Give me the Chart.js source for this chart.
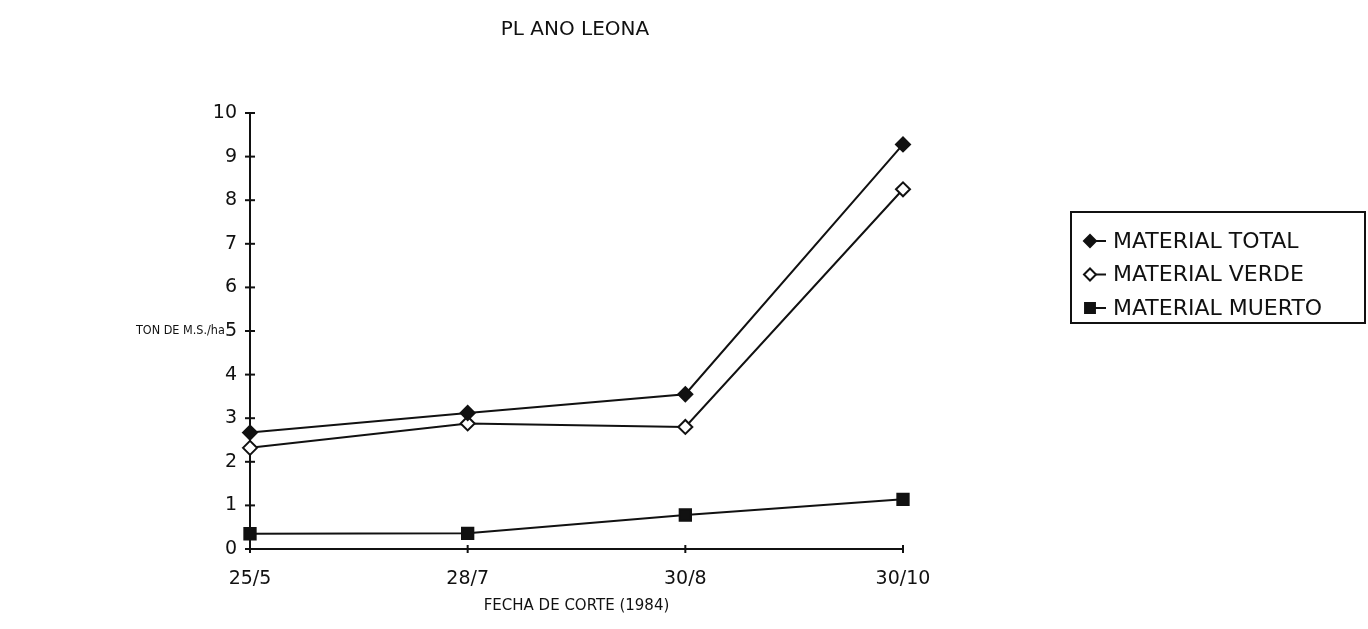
<!DOCTYPE html>
<html lang="es">
<head>
    <meta charset="UTF-8">
    <title>Plano Leona</title>
    <script src="https://cdn.jsdelivr.net/npm/chart.js"></script>
    <style>
        html, body { margin: 0; padding: 0; background: #fff; }
        #wrap { width: 1368px; height: 629px; }
    </style>
    <script>
        // fechas de corte
        var fechas = ['25/5', '28/7', '30/8', '30/10'];
        // ton de M.S./ha
        var materialTotal = [2.67, 3.12, 3.55, 9.28];
        var materialVerde = [2.32, 2.88, 2.80, 8.25];
        var materialMuerto = [0.35, 0.36, 0.78, 1.14];
        var yTicks = [0, 1, 2, 3, 4, 5, 6, 7, 8, 9, 10];
        var nombres = ['MATERIAL TOTAL', 'MATERIAL VERDE', 'MATERIAL MUERTO'];

        var FONT = "'DejaVu Sans', sans-serif";
        var FONT_C = "'DejaVu Sans Condensed', 'DejaVu Sans', sans-serif";
    </script>
</head>
<body>
    <div id="wrap"><canvas id="myChart" width="1368" height="629"></canvas></div>
    <script>
        // ticks en cruz, titulo, titulo del eje y y leyenda con recuadro
        var extras = {
            id: 'extras',
            afterDraw: function (chart) {
                var ctx = chart.ctx;
                var xs = chart.scales.x, ys = chart.scales.y;
                ctx.save();
                ctx.strokeStyle = '#111';
                ctx.fillStyle = '#111';
                ctx.lineWidth = 2;
                ys.ticks.forEach(function (t, i) {
                    var py = ys.getPixelForTick(i);
                    ctx.beginPath();
                    ctx.moveTo(xs.left - 5, py);
                    ctx.lineTo(xs.left + 5, py);
                    ctx.stroke();
                });
                xs.ticks.forEach(function (t, i) {
                    var px = xs.getPixelForTick(i);
                    ctx.beginPath();
                    ctx.moveTo(px, ys.bottom - 4);
                    ctx.lineTo(px, ys.bottom + 4);
                    ctx.stroke();
                });

                ctx.textBaseline = 'middle';
                ctx.textAlign = 'center';
                ctx.font = '20px ' + FONT;
                ctx.fillText('PL ANO LEONA', 575, 30);

                ctx.textAlign = 'left';
                ctx.font = '12.5px ' + FONT_C;
                ctx.fillText('TON DE M.S./ha', 136, ys.getPixelForValue(5));

                // leyenda
                ctx.strokeRect(1071, 212, 294, 111);
                ctx.font = '22px ' + FONT;
                chart.data.datasets.forEach(function (ds, i) {
                    var cy = 241 + i * 33.5;
                    ctx.strokeStyle = '#111';
                    ctx.beginPath();
                    ctx.moveTo(1092, cy);
                    ctx.lineTo(1106, cy);
                    ctx.stroke();
                    ctx.fillStyle = ds.pointBackgroundColor;
                    Chart.helpers.drawPoint(ctx, {
                        pointStyle: ds.pointStyle,
                        radius: ds.pointStyle === 'rect' ? 7 : 6,
                        borderWidth: 2
                    }, 1090, cy);
                    ctx.fillStyle = '#111';
                    ctx.fillText(ds.label, 1113, cy + 1);
                });
                ctx.restore();
            }
        };

        var fondo = {
            id: 'fondo',
            beforeDraw: function (chart) {
                var ctx = chart.ctx;
                ctx.save();
                ctx.fillStyle = '#fff';
                ctx.fillRect(0, 0, chart.width, chart.height);
                ctx.restore();
            }
        };

        var ctx = document.getElementById('myChart').getContext('2d');
        var chart = new Chart(ctx, {
            type: 'line',
            data: {
                labels: fechas,
                datasets: [{
                    label: nombres[0],
                    data: materialTotal,
                    borderColor: '#111',
                    backgroundColor: '#111',
                    pointBackgroundColor: '#111',
                    pointStyle: 'rectRot',
                    pointRadius: 7,
                    borderWidth: 2
                }, {
                    label: nombres[1],
                    data: materialVerde,
                    borderColor: '#111',
                    backgroundColor: '#fff',
                    pointBackgroundColor: '#fff',
                    pointBorderColor: '#111',
                    pointBorderWidth: 2,
                    pointStyle: 'rectRot',
                    pointRadius: 7,
                    borderWidth: 2
                }, {
                    label: nombres[2],
                    data: materialMuerto,
                    borderColor: '#111',
                    backgroundColor: '#111',
                    pointBackgroundColor: '#111',
                    pointStyle: 'rect',
                    pointRadius: 8,
                    borderWidth: 2
                }]
            },
            options: {
                responsive: false,
                animation: false,
                layout: { padding: { left: 0, right: 465, top: 113, bottom: 0 } },
                plugins: {
                    legend: { display: false },
                    tooltip: { enabled: false },
                    title: { display: false }
                },
                scales: {
                    x: {
                        type: 'category',
                        offset: false,
                        afterFit: function (s) { s.height = 80; },
                        grid: { display: false, drawTicks: false },
                        border: { display: true, color: '#111', width: 2 },
                        ticks: {
                            color: '#111',
                            padding: 19,
                            maxRotation: 0,
                            font: { family: FONT, size: 19 }
                        },
                        title: {
                            display: true,
                            text: 'FECHA DE CORTE (1984)',
                            color: '#111',
                            font: { family: FONT, size: 15 },
                            padding: { top: 2, bottom: 14 }
                        }
                    },
                    y: {
                        min: 0,
                        max: 10,
                        afterFit: function (s) { s.width = 250; },
                        afterBuildTicks: function (s) {
                            s.ticks = yTicks.map(function (v) { return { value: v }; });
                        },
                        grid: { display: false, drawTicks: false },
                        border: { display: true, color: '#111', width: 2 },
                        ticks: {
                            color: '#111',
                            padding: 13,
                            font: { family: FONT, size: 19 }
                        }
                    }
                }
            },
            plugins: [fondo, extras]
        });
    </script>
</body>
</html>
